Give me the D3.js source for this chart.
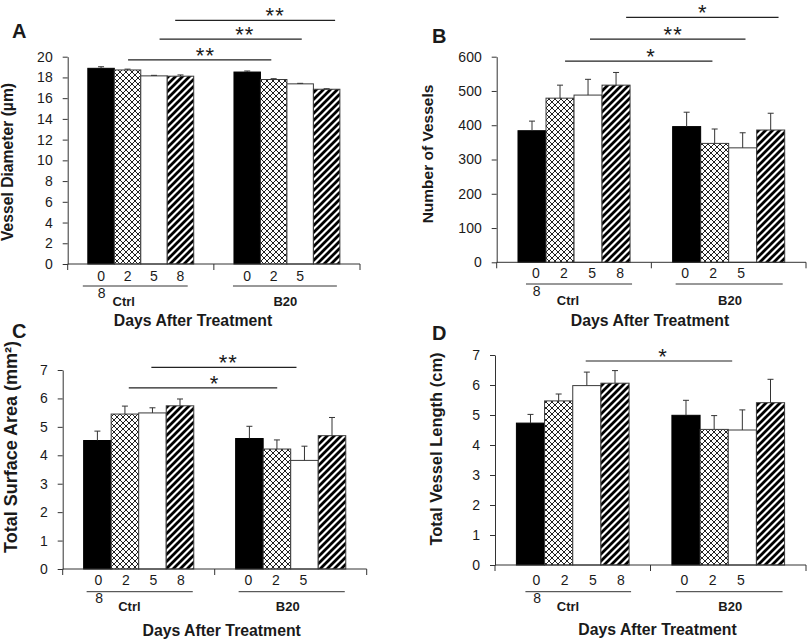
<!DOCTYPE html>
<html><head><meta charset="utf-8">
<script src="https://cdn.jsdelivr.net/npm/d3@7"></script>
<style>
html,body{margin:0;padding:0;background:#fff;}
svg{display:block;font-family:"Liberation Sans",Arial,sans-serif;}
</style></head>
<body><svg id="chart" width="807" height="642"></svg>
<script>
// ---------- data ----------
const groups = ["Ctrl", "B20"];
const days = ["0", "2", "5", "8"];
const dayLabelsCtrl = ["0", "2", "5", "8"];
const dayLabelsB20 = ["0", "2", "5"];
const wrappedLabelsCtrl = ["8"];
const xAxisTitle = "Days After Treatment";

const diameterCtrl = [18.88, 18.72, 18.15, 18.12];
const diameterCtrlErr = [0.15, 0.08, 0.05, 0.12];
const diameterB20 = [18.52, 17.8, 17.38, 16.86];
const diameterB20Err = [0.1, 0.08, 0.05, 0.05];
const yTicksA = [0, 2, 4, 6, 8, 10, 12, 14, 16, 18, 20];

const vesselsCtrl = [384, 479, 488, 517];
const vesselsCtrlErr = [28, 38, 46, 37];
const vesselsB20 = [396, 347, 334, 386];
const vesselsB20Err = [42, 42, 44, 49];
const yTicksB = [0, 100, 200, 300, 400, 500, 600];

const areaCtrl = [4.52, 5.45, 5.49, 5.74];
const areaCtrlErr = [0.33, 0.28, 0.18, 0.24];
const areaB20 = [4.59, 4.22, 3.82, 4.69];
const areaB20Err = [0.43, 0.32, 0.5, 0.64];
const yTicksC = [0, 1, 2, 3, 4, 5, 6, 7];

const lengthCtrl = [4.73, 5.47, 5.98, 6.06];
const lengthCtrlErr = [0.29, 0.23, 0.45, 0.42];
const lengthB20 = [4.99, 4.52, 4.5, 5.41];
const lengthB20Err = [0.5, 0.46, 0.67, 0.78];
const yTicksD = [0, 1, 2, 3, 4, 5, 6, 7];

// significance brackets: from Ctrl bar index to B20 bar index, at y level (data units)
const sigA = [{from:1,to:1,level:19.7,label:"**"},{from:2,to:2,level:21.7,label:"**"},{from:3,to:3,level:23.5,label:"**"}];
const sigB = [{from:1,to:1,level:587,label:"*"},{from:2,to:2,level:651,label:"**"},{from:3,to:3,level:715,label:"*"}];
const sigC = [{from:1,to:1,level:6.37,label:"*"},{from:2,to:2,level:7.09,label:"**"}];
const sigD = [{from:2,to:2,level:6.8,label:"*"}];

// ---------- layout ----------
const layoutA = {x0:67.7,x1:360,y0:264,y1:56.7,letter:[12,38],yLabel:[13,162,15.7],xTitle:[193,326],
  rowY:[281,298],lineY:286,groupY:306,labelShift:[0,0],ul:[[-5,-6],[-1,-3]],groupLabelShift:[-17,-1.5],
  sigFrac:[[0.52,0.41,0.54],[0.71,0.56,0.6],[0.3,0.82,0.625]]};
const layoutB = {x0:496.7,x1:806,y0:262.3,y1:56.7,letter:[432,43],yLabel:[433,154,15.5],xTitle:[650,326],
  rowY:[277.5,295.5],lineY:284,groupY:304.5,labelShift:[4,-1.5],ul:[[8,2],[3,-2]],groupLabelShift:[-6,1.3],
  sigFrac:[[0.68,0.42,0.58],[0.57,0.6,0.535],[0.86,0.78,0.5]]};
const layoutC = {x0:62.7,x1:366.7,y0:569,y1:370,letter:[12,338],yLabel:[17,447,18],xTitle:[221.7,636],
  rowY:[585,603],lineY:591.7,groupY:611,labelShift:[1,-1],ul:[[3,-1],[3,-1]],groupLabelShift:[-9.3,-3],
  sigFrac:[[0.64,0.51,0.575],[0.46,0.21,0.53]]};
const layoutD = {x0:495,x1:806,y0:565,y1:355,letter:[432,340],yLabel:[442,449,16.5],xTitle:[657.5,635],
  rowY:[585,603],lineY:591.7,groupY:611,labelShift:[6,-1.5],ul:[[9,2],[4,-2]],groupLabelShift:[-4.7,2],
  sigFrac:[[0.46,0.14,0.525]]};

const panels = [
  {letter:"A", yTitle:"Vessel Diameter (µm)", ctrl:diameterCtrl, ctrlErr:diameterCtrlErr, b20:diameterB20, b20Err:diameterB20Err, ticks:yTicksA, sig:sigA, L:layoutA},
  {letter:"B", yTitle:"Number of Vessels", ctrl:vesselsCtrl, ctrlErr:vesselsCtrlErr, b20:vesselsB20, b20Err:vesselsB20Err, ticks:yTicksB, sig:sigB, L:layoutB},
  {letter:"C", yTitle:"Total Surface Area (mm²)", ctrl:areaCtrl, ctrlErr:areaCtrlErr, b20:areaB20, b20Err:areaB20Err, ticks:yTicksC, sig:sigC, L:layoutC},
  {letter:"D", yTitle:"Total Vessel Length (cm)", ctrl:lengthCtrl, ctrlErr:lengthCtrlErr, b20:lengthB20, b20Err:lengthB20Err, ticks:yTicksD, sig:sigD, L:layoutD}
];

const ink = "#1a1a1a";
const tickFont = 14;
const svg = d3.select("#chart");
const defs = svg.append("defs");

// patterns
const cs = 6;
const cross = defs.append("pattern").attr("id","cross").attr("patternUnits","userSpaceOnUse").attr("width",cs).attr("height",cs);
cross.append("rect").attr("width",cs).attr("height",cs).attr("fill","#fff");
cross.append("path").attr("d",`M0,0L${cs},${cs}M${cs},0L0,${cs}`).attr("stroke","#222").attr("stroke-width",1);
const ss = 7;
const stripe = defs.append("pattern").attr("id","stripe").attr("patternUnits","userSpaceOnUse").attr("width",ss).attr("height",ss);
stripe.append("rect").attr("width",ss).attr("height",ss).attr("fill","#fff");
stripe.append("path").attr("d",`M-2,${ss+2}L${ss+2},-2M-2,2L2,-2M${ss-2},${ss+2}L${ss+2},${ss-2}`).attr("stroke","#000").attr("stroke-width",2.8);

const fills = ["#000","url(#cross)","#fff","url(#stripe)"];

panels.forEach(p => {
  const L = p.L;
  const g = svg.append("g");
  const y = d3.scaleLinear().domain([0, p.ticks[p.ticks.length-1]]).range([L.y0, L.y1]);
  const xg = d3.scaleBand().domain(groups).range([L.x0, L.x1]).paddingInner(0).paddingOuter(0);
  const xb = d3.scaleBand().domain(days).range([0, xg.bandwidth()]).paddingInner(0).paddingOuter(0.76);
  const bw = xb.bandwidth();
  const barX = (gi, di) => xg(groups[gi]) + xb(days[di]);

  // bars
  const rows = [];
  [p.ctrl, p.b20].forEach((vals, gi) => {
    const errs = gi === 0 ? p.ctrlErr : p.b20Err;
    vals.forEach((v, di) => rows.push({gi, di, v, e: errs[di]}));
  });
  g.selectAll("rect.bar").data(rows).join("rect").attr("class","bar")
    .attr("x", d => barX(d.gi, d.di)).attr("width", bw)
    .attr("y", d => y(d.v)).attr("height", d => y(0) - y(d.v))
    .attr("fill", d => fills[d.di])
    .attr("stroke", d => d.di === 0 ? "#000" : "#3a3a3a").attr("stroke-width", 1);

  // error bars
  const eb = g.selectAll("g.err").data(rows).join("g").attr("class","err")
    .attr("stroke", "#333").attr("stroke-width", 1);
  eb.append("line").attr("x1", d => barX(d.gi,d.di)+bw/2).attr("x2", d => barX(d.gi,d.di)+bw/2)
    .attr("y1", d => y(d.v)).attr("y2", d => y(d.v + d.e));
  eb.append("line").attr("x1", d => barX(d.gi,d.di)+bw/2-3).attr("x2", d => barX(d.gi,d.di)+bw/2+3)
    .attr("y1", d => y(d.v + d.e)).attr("y2", d => y(d.v + d.e));

  // y axis
  const ax = g.append("g").attr("transform", `translate(${L.x0},0)`)
    .call(d3.axisLeft(y).tickValues(p.ticks).tickSize(5).tickSizeOuter(0).tickPadding(10).tickFormat(d3.format("d")));
  ax.select(".domain").attr("stroke", "#333");
  ax.selectAll(".tick line").attr("stroke", "#333");
  ax.selectAll(".tick text").attr("fill", ink).attr("font-size", tickFont).attr("font-family", "Liberation Sans, Arial, sans-serif");

  // x axis line + boundary ticks
  g.append("line").attr("x1", L.x0).attr("x2", L.x1).attr("y1", y(0)).attr("y2", y(0)).attr("stroke", "#333");
  const bounds = [xg.range()[0], xg(groups[1]), xg.range()[1]];
  g.selectAll("line.xt").data(bounds).join("line").attr("class","xt")
    .attr("x1", d => d).attr("x2", d => d).attr("y1", y(0)).attr("y2", y(0) + 6).attr("stroke", "#333");

  // category labels
  const labRows = [dayLabelsCtrl, dayLabelsB20];
  labRows.forEach((labs, gi) => {
    g.selectAll(null).data(labs).join("text")
      .attr("x", (d, i) => barX(gi, i) + bw/2 + L.labelShift[gi]).attr("y", L.rowY[0])
      .attr("text-anchor", "middle").attr("font-size", tickFont).attr("fill", ink).text(d => d);
  });
  g.selectAll(null).data(wrappedLabelsCtrl).join("text")
    .attr("x", (d, i) => barX(0, i) + bw/2 + L.labelShift[0] + 0.7).attr("y", L.rowY[1])
    .attr("text-anchor", "middle").attr("font-size", tickFont).attr("fill", ink).text(d => d);

  // group underlines + group names
  groups.forEach((gn, gi) => {
    const left = barX(gi, 0), right = barX(gi, 3) + bw;
    g.append("line").attr("x1", left + L.ul[gi][0]).attr("x2", right + L.ul[gi][1])
      .attr("y1", L.lineY).attr("y2", L.lineY).attr("stroke", "#333").attr("stroke-width", 1);
    g.append("text").attr("x", (left + right)/2 + L.groupLabelShift[gi]).attr("y", L.groupY)
      .attr("text-anchor", "middle").attr("font-size", 13).attr("font-weight", "bold").attr("fill", ink).text(gn);
  });

  // x title
  g.append("text").attr("x", L.xTitle[0]).attr("y", L.xTitle[1]).attr("text-anchor", "middle")
    .attr("font-size", 15.8).attr("font-weight", "bold").attr("fill", ink).text(xAxisTitle);

  // y title
  g.append("text").attr("transform", `translate(${L.yLabel[0]},${L.yLabel[1]}) rotate(-90)`)
    .attr("text-anchor", "middle").attr("font-size", L.yLabel[2]).attr("font-weight", "bold").attr("fill", ink).text(p.yTitle);

  // panel letter
  g.append("text").attr("x", L.letter[0]).attr("y", L.letter[1]).attr("font-size", 20)
    .attr("font-weight", "bold").attr("fill", ink).text(p.letter);

  // significance brackets
  p.sig.forEach((s, si) => {
    const f = L.sigFrac[si];
    const xa = barX(0, s.from) + f[0]*bw;
    const xz = barX(1, s.to) + f[1]*bw;
    const yy = y(s.level);
    g.append("line").attr("x1", xa).attr("x2", xz).attr("y1", yy).attr("y2", yy).attr("stroke", "#222").attr("stroke-width", 1.2);
    g.append("text").attr("x", xa + (xz - xa)*f[2]).attr("y", yy + 3).attr("text-anchor", "middle")
      .attr("font-size", 22).attr("letter-spacing", s.label.length > 1 ? 1 : 0).attr("fill", ink).text(s.label);
  });
});
</script>
</body></html>
